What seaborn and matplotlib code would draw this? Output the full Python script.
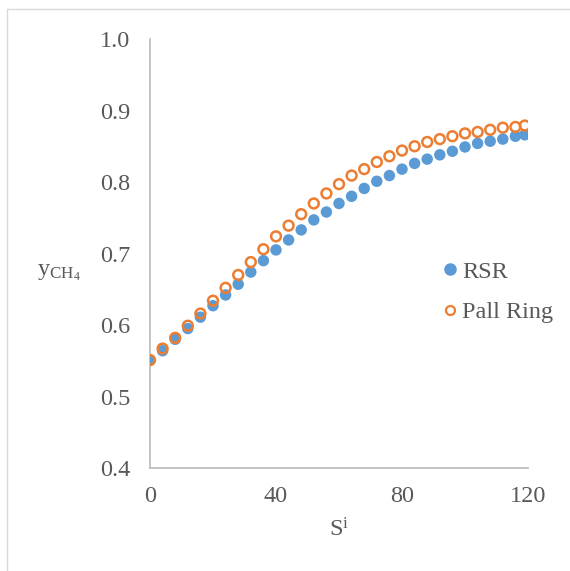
import matplotlib
matplotlib.use("Agg")
import matplotlib.pyplot as plt
import seaborn as sns
import pandas as pd
from matplotlib.lines import Line2D

# ---- data ----
s_values = [0, 4, 8, 12, 16, 20, 24, 28, 32, 36, 40, 44, 48, 52, 56, 60, 64, 68,
            72, 76, 80, 84, 88, 92, 96, 100, 104, 108, 112, 116, 119]
rsr = [0.551, 0.564, 0.580, 0.595, 0.611, 0.627, 0.642, 0.657, 0.674, 0.690,
       0.705, 0.719, 0.733, 0.747, 0.758, 0.770, 0.780, 0.791, 0.801, 0.809,
       0.818, 0.826, 0.832, 0.838, 0.843, 0.849, 0.854, 0.857, 0.860, 0.864, 0.866]
pall = [0.551, 0.567, 0.582, 0.599, 0.616, 0.634, 0.652, 0.670, 0.688, 0.706,
        0.724, 0.739, 0.755, 0.770, 0.784, 0.797, 0.809, 0.818, 0.828, 0.836,
        0.844, 0.850, 0.856, 0.860, 0.864, 0.868, 0.870, 0.873, 0.876, 0.877, 0.879]
x_ticks = [0, 40, 80, 120]
y_ticks = [0.4, 0.5, 0.6, 0.7, 0.8, 0.9, 1.0]
series_names = ["RSR", "Pall Ring"]

sns.set_style("white")
plt.rcParams["font.family"] = ["Liberation Serif", "DejaVu Serif"]
plt.rcParams["mathtext.fontset"] = "custom"
plt.rcParams["mathtext.rm"] = "Liberation Serif"
plt.rcParams["mathtext.it"] = "Liberation Serif"

df_rsr = pd.DataFrame({"S": s_values, "y": rsr})
df_pall = pd.DataFrame({"S": s_values, "y": pall})

blue = "#5B9BD5"
orange = "#ED7D31"
grid_gray = "#BFBFBF"
text_gray = "#595959"
fs = 17.5

fig = plt.figure(figsize=(5.70, 5.71), dpi=100)
ax = fig.add_axes([150/570, 1-468/571, (528-150)/570, (468-39)/571])

sns.scatterplot(data=df_rsr, x="S", y="y", ax=ax, color=blue, s=68,
                edgecolor="none", linewidth=0, label=series_names[0], zorder=3)
sns.scatterplot(data=df_pall, x="S", y="y", ax=ax, facecolors="none",
                edgecolor=orange, linewidth=1.8, s=50, marker="o",
                label=series_names[1], zorder=4)

ax.set_xlim(0, 120)
ax.set_ylim(0.4, 1.0)
ax.set_xticks(x_ticks)
ax.set_yticks(y_ticks)
ax.set_xticklabels([str(v) for v in x_ticks])
ax.set_yticklabels([f"{v:.1f}" for v in y_ticks])

for side in ["top", "right"]:
    ax.spines[side].set_visible(False)
for side in ["left", "bottom"]:
    ax.spines[side].set_color(grid_gray)
    ax.spines[side].set_linewidth(1.3)
ax.tick_params(axis="both", direction="out", length=5, width=1.3,
               color=grid_gray, labelcolor=text_gray, labelsize=fs)
ax.tick_params(axis="y", pad=9)
ax.tick_params(axis="x", pad=8)

ax.set_xlabel(r"$\mathregular{S^i}$", fontsize=fs, color=text_gray, labelpad=8)
ax.set_ylabel(r"$\mathregular{y_{CH_4}}$", fontsize=fs, color=text_gray,
              rotation=0, va="center", ha="center")
ax.yaxis.set_label_coords(-0.24, 0.455)

handles = [
    Line2D([], [], linestyle="none", marker="o", markersize=8,
           markerfacecolor=blue, markeredgecolor=blue),
    Line2D([], [], linestyle="none", marker="o", markersize=6.5,
           markerfacecolor="none", markeredgecolor=orange, markeredgewidth=1.6),
]
leg = ax.legend(handles, series_names, loc="center left",
                bbox_to_anchor=(428/570, 1-292/571), bbox_transform=fig.transFigure,
                frameon=False, fontsize=fs, handletextpad=0.0, labelspacing=0.75,
                handlelength=1.0, borderaxespad=0)
for t in leg.get_texts():
    t.set_color(text_gray)

# outer chart border (left and top visible)
fig.add_artist(Line2D([7/570, 7/570], [0, 1-9/571], transform=fig.transFigure,
                      color="#D9D9D9", linewidth=1.0))
fig.add_artist(Line2D([7/570, 1], [1-9/571, 1-9/571], transform=fig.transFigure,
                      color="#D9D9D9", linewidth=1.0))

fig.savefig("out.png", dpi=100)
